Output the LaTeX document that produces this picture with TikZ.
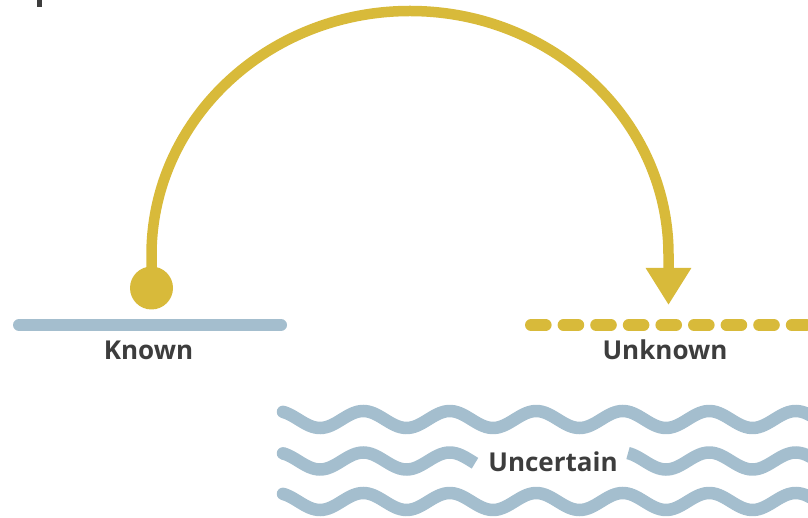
\documentclass[tikz,border=0pt]{standalone}
\usepackage{fontspec}
\setmainfont{Open Sans}
\usetikzlibrary{arrows.meta}
\definecolor{gold}{HTML}{D8BA3A}
\definecolor{steel}{HTML}{A4BECE}
\definecolor{ink}{HTML}{3D3D3D}
\tikzset{
  lbl/.style={font=\fontsize{26}{30}\selectfont\bfseries, text=ink, inner sep=0pt, anchor=base},
  arcline/.style={draw=gold, line width=10.5pt, -{Triangle[length=37pt,width=43pt]}},
  baseline/.style={draw=steel, line width=12pt, line cap=round},
  dashline/.style={draw=gold, line width=12pt, line cap=round, dash pattern=on 14.6pt off 18pt},
  wave/.style={draw=steel, line width=12.5pt, line cap=butt},
}
\begin{document}
\begin{tikzpicture}[x=1pt,y=-1pt]
\useasboundingbox (0,0) rectangle (808,518);
\clip (0,0) rectangle (808,518);
% fragment at top-left
\fill[ink] (37,0) rectangle (41.5,7);
% known / unknown lines
\draw[baseline] (19,325) -- (281,325);
\draw[dashline] (531,325) -- (815,325);
% source dot and target
\node[circle, fill=gold, minimum size=43pt, inner sep=0pt] (src) at (151.5,288) {};
\coordinate (tgt) at (668.5,305);
\draw[arcline] (src.center) -- (151.5,255) arc[start angle=180, end angle=360, x radius=258.5, y radius=244] -- (tgt);
% labels
\node[lbl] (known) at (148.5,359.5) {Known};
\node[lbl] (unknown) at (665,359.5) {Unknown};
\node[lbl] (uncertain) at (553,471) {Uncertain};
% waves
\def\wl{86.5}
\def\xt{320}
\def\amp{8.5}
\draw[wave] plot[domain=283:815, samples=200] (\x,{419.5+\amp*cos((\x-\xt)/\wl*360)});
\draw[wave] plot[domain=283:475, samples=80] (\x,{461+\amp*cos((\x-\xt)/\wl*360)});
\draw[wave] plot[domain=628:815, samples=80] (\x,{461+\amp*cos((\x-\xt)/\wl*360)});
\draw[wave] plot[domain=283:815, samples=200] (\x,{501.5+\amp*cos((\x-\xt)/\wl*360)});
\foreach \yc in {419.5,461,501.5}
  \fill[steel] (283,{\yc+\amp*cos((283-\xt)/\wl*360)}) circle (6.25pt);
\end{tikzpicture}
\end{document}
